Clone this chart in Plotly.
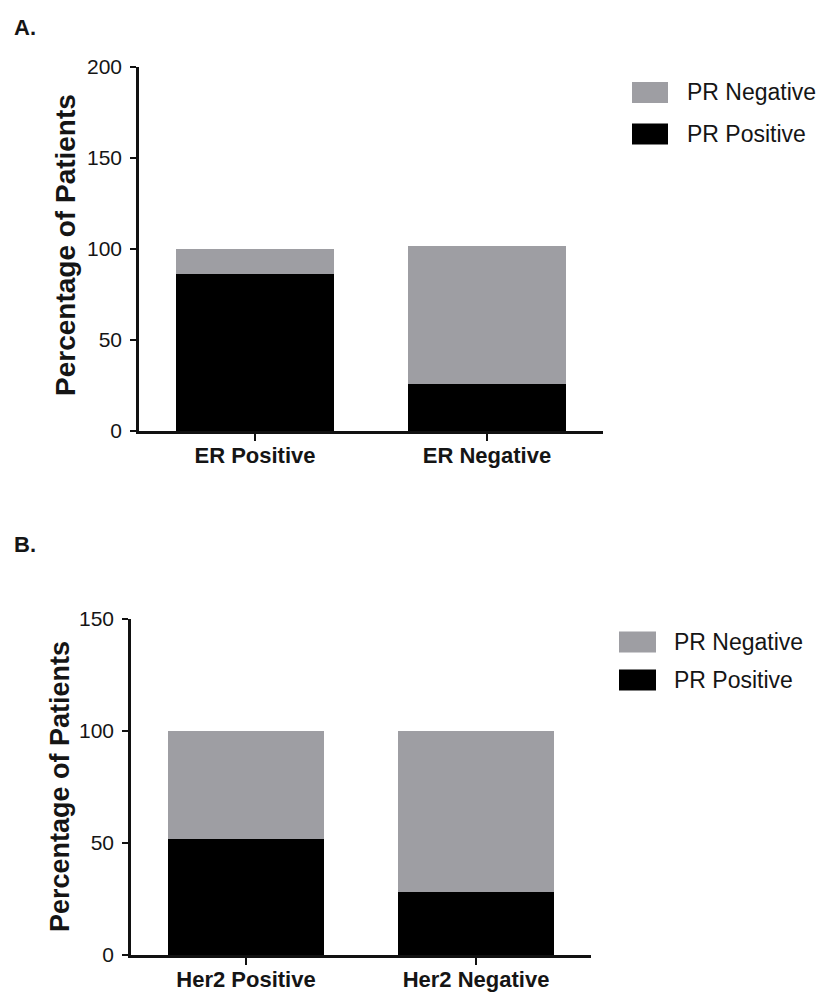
import plotly.graph_objects as go

# ---------------- data ----------------
cats_a = ["ER Positive", "ER Negative"]
pr_pos_a = [86, 26]
pr_neg_a = [14, 75.5]

cats_b = ["Her2 Positive", "Her2 Negative"]
pr_pos_b = [52, 28]
pr_neg_b = [48, 72]

series_names = ["PR Negative", "PR Positive"]
yticks_a = [0, 50, 100, 150, 200]
yticks_b = [0, 50, 100, 150]

# ---------------- styling ----------------
W, H = 833, 994
GRAY = "#9e9ea3"
BLACK = "#000000"
FONT = "Liberation Sans, Arial, Helvetica, sans-serif"
TXT = "#151515"


def fx(px):
    return px / W


def fy(py):
    return 1 - py / H


fig = go.Figure()

# Panel A
fig.add_trace(go.Bar(x=cats_a, y=pr_pos_a, name="PR Positive", marker=dict(color=BLACK, line=dict(width=0)),
                     width=0.68, xaxis="x", yaxis="y", showlegend=False))
fig.add_trace(go.Bar(x=cats_a, y=pr_neg_a, name="PR Negative", marker=dict(color=GRAY, line=dict(width=0)),
                     width=0.68, xaxis="x", yaxis="y", showlegend=False))
# Panel B
fig.add_trace(go.Bar(x=cats_b, y=pr_pos_b, name="PR Positive", marker=dict(color=BLACK, line=dict(width=0)),
                     width=0.68, xaxis="x2", yaxis="y2", showlegend=False))
fig.add_trace(go.Bar(x=cats_b, y=pr_neg_b, name="PR Negative", marker=dict(color=GRAY, line=dict(width=0)),
                     width=0.68, xaxis="x2", yaxis="y2", showlegend=False))

xcommon = dict(type="category", showline=True, linecolor="#111", linewidth=2.5, ticks="outside",
               ticklen=7, tickwidth=2, tickcolor="#111", showgrid=False, zeroline=False,
               tickfont=dict(family=FONT, size=22, color=TXT, weight="bold"), fixedrange=True,
               range=[-0.5, 1.5], ticklabelstandoff=-4)
ycommon = dict(showline=True, linecolor="#111", linewidth=2.5, ticks="outside", ticklen=6,
               tickwidth=2, tickcolor="#111", showgrid=False, zeroline=False,
               tickfont=dict(family=FONT, size=21, color=TXT), ticklabelstandoff=4, fixedrange=True)

fig.update_layout(
    width=W, height=H,
    margin=dict(l=0, r=0, t=0, b=0, autoexpand=False),
    paper_bgcolor="white", plot_bgcolor="white",
    barmode="stack", showlegend=False,
    xaxis=dict(xcommon, domain=[fx(139), fx(603)], anchor="y", categoryorder="array", categoryarray=cats_a),
    yaxis=dict(ycommon, domain=[fy(431), fy(67)], anchor="x", range=[0, 200], tickvals=yticks_a),
    xaxis2=dict(xcommon, domain=[fx(131), fx(591)], anchor="y2", categoryorder="array", categoryarray=cats_b),
    yaxis2=dict(ycommon, domain=[fy(955), fy(619)], anchor="x2", range=[0, 150], tickvals=yticks_b),
)

annotations = []
shapes = []

# Panel labels
annotations.append(dict(text="A.", x=fx(12), y=fy(28), xref="paper", yref="paper", xanchor="left",
                        yanchor="middle", showarrow=False, font=dict(family=FONT, size=22, color=TXT, weight="bold")))
annotations.append(dict(text="B.", x=fx(12), y=fy(544), xref="paper", yref="paper", xanchor="left",
                        yanchor="middle", showarrow=False, font=dict(family=FONT, size=22, color=TXT, weight="bold")))

# Y axis titles
annotations.append(dict(text="Percentage of Patients", x=fx(65), y=fy(245), xref="paper", yref="paper",
                        xanchor="center", yanchor="middle", textangle=-90, showarrow=False,
                        font=dict(family=FONT, size=28, color=TXT, weight="bold")))
annotations.append(dict(text="Percentage of Patients", x=fx(60), y=fy(787), xref="paper", yref="paper",
                        xanchor="center", yanchor="middle", textangle=-90, showarrow=False,
                        font=dict(family=FONT, size=27, color=TXT, weight="bold")))

# Custom legends (large swatches like the original)
legend_colors = {"PR Negative": GRAY, "PR Positive": BLACK}
legend_specs = [
    # (swatch left, swatch right, first row center y, row gap, text x)
    (632, 668, 92.5, 41.5, 685),
    (619, 656, 642, 38, 672),
]
for (sx0, sx1, cy0, gap, tx) in legend_specs:
    for i, name in enumerate(series_names):
        cy = cy0 + i * gap
        shapes.append(dict(type="rect", xref="paper", yref="paper", x0=fx(sx0), x1=fx(sx1),
                           y0=fy(cy - 10.5), y1=fy(cy + 10.5), fillcolor=legend_colors[name],
                           line=dict(width=0), layer="above"))
        annotations.append(dict(text=name, x=fx(tx), y=fy(cy), xref="paper", yref="paper",
                                xanchor="left", yanchor="middle", showarrow=False,
                                font=dict(family=FONT, size=23, color=TXT)))

fig.update_layout(annotations=annotations, shapes=shapes)

fig.write_html("out.html", config={"displayModeBar": False})
